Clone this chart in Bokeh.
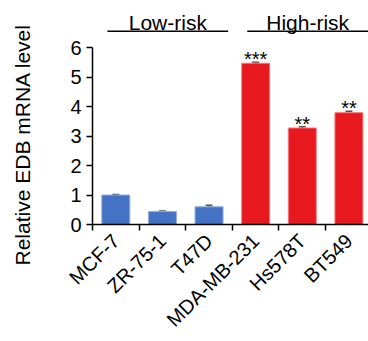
import math
from bokeh.plotting import figure
from bokeh.models import (ColumnDataSource, Range1d, FixedTicker, Whisker, TeeHead, Title)
from bokeh.core.properties import value
from bokeh.embed import file_html
from bokeh.resources import INLINE

# ---- data ----
categories = ["MCF-7", "ZR-75-1", "T47D", "MDA-MB-231", "Hs578T", "BT549"]
expression = [1.00, 0.44, 0.60, 5.48, 3.28, 3.80]
errors = [0.02, 0.02, 0.05, 0.03, 0.04, 0.05]
significance = ["", "", "", "***", "**", "**"]
risk_group = ["Low", "Low", "Low", "High", "High", "High"]
group_names = ["Low-risk", "High-risk"]
group_first = [0, 3]
group_last = [2, 5]
y_ticks = [0, 1, 2, 3, 4, 5, 6]

FONT = "Liberation Sans"
BLUE = "#4472C4"
RED = "#E8191E"
colors = {"Low": BLUE, "High": RED}
outline = {"Low": "#8FAADC", "High": "#F47A7D"}

xs = [i + 0.5 for i in range(len(categories))]
src = ColumnDataSource(dict(
    x=xs, top=expression,
    upper=[v + e for v, e in zip(expression, errors)],
    lower=[v - e for v, e in zip(expression, errors)],
    color=[colors[g] for g in risk_group],
    lc=[outline[g] for g in risk_group],
    sig=significance,
))

p = figure(width=368, height=341, output_backend="svg", toolbar_location=None,
           x_range=Range1d(0, 5.92), y_range=Range1d(0, 7.34),
           min_border_left=92, min_border_right=0, min_border_top=8, min_border_bottom=114)
p.outline_line_color = None
p.xgrid.grid_line_color = None
p.ygrid.grid_line_color = None
p.background_fill_color = None
p.border_fill_color = "white"

p.vbar(x="x", top="top", bottom=0, width=0.6, fill_color="color", line_color="lc",
       line_width=1, source=src)

w = Whisker(base="x", upper="upper", lower="lower", source=src,
            line_color="#555555", line_width=1.5,
            upper_head=TeeHead(size=7, line_color="#555555", line_width=1.5),
            lower_head=TeeHead(size=7, line_color="#555555", line_width=1.5))
p.add_layout(w)

p.text(x="x", y="upper", text="sig", source=src, text_align="center",
       text_baseline="alphabetic", y_offset=-3, text_font=value(FONT),
       text_font_size="20px", text_color="black")

for name, f, l in zip(group_names, group_first, group_last):
    x0 = f + 0.32
    x1 = l + 1 - 0.09
    p.segment(x0=[x0], y0=[6.57], x1=[x1], y1=[6.57], line_color="black", line_width=1.5)
    p.text(x=[(x0 + x1) / 2], y=[6.85], text=[name], text_align="center",
           text_baseline="alphabetic", text_font=value(FONT), text_font_size="21px",
           text_color="black")

ya = p.yaxis[0]
ya.bounds = (0, 6)
ya.ticker = FixedTicker(ticks=y_ticks)
ya.minor_tick_line_color = None
ya.major_tick_out = 6
ya.major_tick_in = 0
ya.axis_line_width = 1.5
ya.major_tick_line_width = 1.5
ya.major_label_text_font = FONT
ya.major_label_text_font_size = "20px"
ya.major_label_text_color = "black"
ya.major_label_standoff = 5
# invisible spacer label pushes the title further left
ya.axis_label = " "
ya.axis_label_text_font_size = "1px"
ya.axis_label_standoff = 27

xa = p.xaxis[0]
xa.bounds = (0, 5.92)
xa.ticker = FixedTicker(ticks=xs, minor_ticks=list(range(len(categories) + 1)))
xa.major_label_overrides = {x: c for x, c in zip(xs, categories)}
xa.major_tick_line_color = None
xa.major_tick_out = 0
xa.major_tick_in = 0
xa.minor_tick_line_color = "black"
xa.minor_tick_line_width = 1.5
xa.minor_tick_out = 6
xa.minor_tick_in = 0
xa.axis_line_width = 1.5
xa.major_label_orientation = math.pi / 4
xa.major_label_text_font = FONT
xa.major_label_text_font_size = "20px"
xa.major_label_text_color = "black"
xa.major_label_standoff = 7

t = Title(text="Relative EDB mRNA level", align="left", offset=-41, standoff=6,
          text_font=FONT, text_font_size="21px", text_font_style="normal",
          text_color="black")
p.add_layout(t, "left")

open("out.html", "w").write(file_html(p, INLINE))
